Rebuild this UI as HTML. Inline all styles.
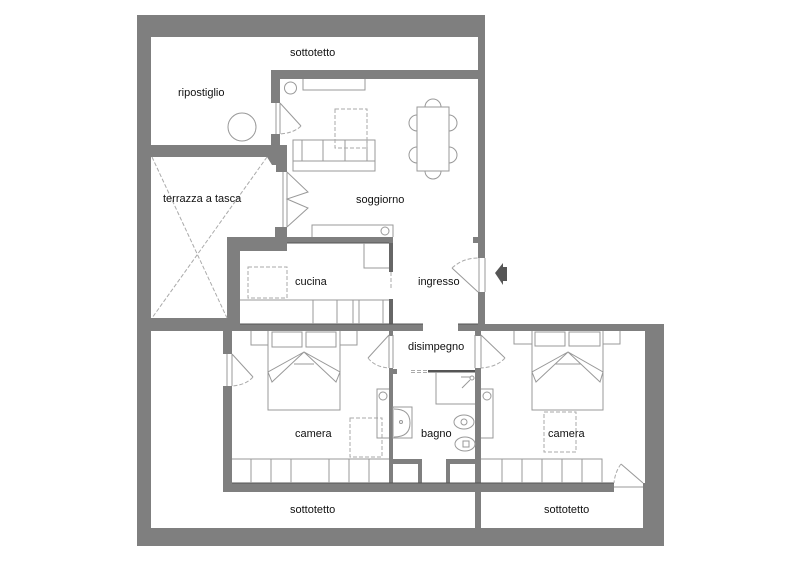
<!DOCTYPE html>
<html><head><meta charset="utf-8"><style>
html,body{margin:0;padding:0;background:#fff;width:800px;height:565px;overflow:hidden}
svg{display:block}
text{font-family:"Liberation Sans",sans-serif;font-size:11px;fill:#111}
.w{fill:#fff}
.g{fill:#7f7f7f}
.l{fill:none;stroke:#999;stroke-width:1}
.d{fill:none;stroke:#aaa;stroke-width:1;stroke-dasharray:4 2}
.k{fill:none;stroke:#555;stroke-width:1}
</style></head><body>
<svg width="800" height="565" viewBox="0 0 800 565" xmlns="http://www.w3.org/2000/svg">
<polygon class="g" points="137,15 485,15 485,324 664,324 664,546 137,546"/>
<polygon class="w" points="151,37 478,37 478,70 271,70 271,145 151,145"/>
<polygon class="w" points="151,157 267,157 272,165 276,165 276,172 283,172 283,227 275,227 275,237 227,237 227,318 151,318"/>
<rect class="w" x="280" y="79" width="198" height="66"/>
<rect class="w" x="287" y="145" width="191" height="92"/>
<rect class="w" x="393" y="237" width="85" height="87"/>
<rect class="w" x="287" y="243" width="106" height="81"/>
<rect class="w" x="240" y="251" width="47" height="73"/>
<rect class="w" x="423" y="324" width="35" height="8"/>
<rect class="w" x="271" y="103" width="9" height="31"/>
<rect class="w" x="283" y="172" width="4" height="55"/>
<rect class="w" x="478" y="258" width="7" height="34"/>
<rect class="w" x="393" y="331" width="82" height="128"/>
<rect class="w" x="393" y="464" width="25" height="19"/>
<rect class="w" x="422" y="459" width="24" height="24"/>
<rect class="w" x="450" y="464" width="25" height="19"/>
<rect class="w" x="232" y="331" width="157" height="152"/>
<rect class="w" x="481" y="331" width="164" height="152"/>
<polygon class="w" points="151,331 223,331 223,492 475,492 475,528 151,528"/>
<rect class="w" x="481" y="492" width="162" height="36"/>
<rect class="w" x="614" y="483" width="29" height="10"/>
<rect class="w" x="223" y="354" width="9" height="32"/>
<rect class="w" x="389" y="336" width="4" height="32"/>
<rect class="w" x="475" y="336" width="6" height="32"/>
<rect class="g" x="473" y="237" width="5" height="6"/>
<rect class="g" x="389" y="243" width="4" height="29" style="fill:#666"/>
<rect class="g" x="389" y="299" width="4" height="25" style="fill:#666"/>
<rect class="g" x="393" y="369" width="4" height="5"/>
<rect x="428" y="370" width="47" height="2.5" fill="#555"/>
<path class="k" d="M232 483H614M240 324H423M287 243H389M458 324H478M393 483H475M481 483H614"/>
<path class="d" d="M411 370.500H428M411 372.500H428"/>
<path class="d" d="M391 272V288"/>

<!-- door lines -->
<path class="l" d="M276 103V134M280 103V134M283 172V227M287 172V227M479 258V292M485 258V292M227 354V386M232 354V386M389 335V368M393 335V368M475 335V368M481 335V368M614 487H643"/>
<path class="l" d="M280 103L301 126"/>
<path class="d" d="M301 126Q294 133 280 134"/>
<path class="l" d="M287 172L308 192L287 199L308 208L287 227"/>
<path class="l" d="M478 292L452 268"/>
<path class="d" d="M452 268Q463 258 478 258"/>
<path class="l" d="M232 354L253 377"/>
<path class="d" d="M253 377Q246 385 232 386"/>
<path class="l" d="M389 335L368 358"/>
<path class="d" d="M368 358Q375 367 389 368"/>
<path class="l" d="M481 335L505 358"/>
<path class="d" d="M505 358Q497 367 481 368"/>
<path class="l" d="M643 483L621 464"/>
<path class="d" d="M621 464Q615 472 614 483"/>

<!-- arrow -->
<polygon points="495,274 503,264 503,286" fill="#555" transform="translate(0,-1)"/>
<rect x="503" y="267" width="4" height="14" fill="#555"/>

<!-- ripostiglio, living -->
<circle class="l" cx="242" cy="127" r="14"/>
<circle class="l" cx="290.500" cy="88" r="6"/>
<path class="l" d="M303 79V90H365V79"/>
<path class="l" d="M293 140H375V171H293ZM293 161H375M302 140V161M323 140V161M345 140V161M367 140V161"/>
<rect class="d" x="335" y="109" width="32" height="39"/>
<rect class="l" x="417" y="107" width="32" height="64"/>
<path class="l" d="M425 107A8 8 0 0 1 441 107M425 171A8 8 0 0 0 441 171M417 115A8 8 0 0 0 417 131M417 147A8 8 0 0 0 417 163M449 115A8 8 0 0 1 449 131M449 147A8 8 0 0 1 449 163"/>

<!-- terrace -->
<path class="d" d="M152 157L227 318M267 157L152 318"/>

<!-- kitchen -->
<path class="l" d="M312 237V225H393V237"/>
<circle class="l" cx="385" cy="231" r="4"/>
<path class="l" d="M364 243V268H389"/>
<rect class="d" x="248" y="267" width="39" height="31"/>
<path class="l" d="M240 300H389M313 300V324M337 300V324M353 300V324M359 300V324M383 300V324"/>

<!-- left bedroom -->
<path class="l" d="M268 331V410H340V331"/>
<rect class="l" x="272" y="332" width="30" height="15"/>
<rect class="l" x="306" y="332" width="30" height="15"/>
<path class="l" d="M251 331V345H268M340 345H357V331"/>
<path class="l" d="M304 352L268 372L272 382L304 352L340 372L336 382ZM294 364H314"/>
<rect class="d" x="350" y="418" width="32" height="39"/>
<path class="l" d="M232 459H389M251 459V483M271 459V483M291 459V483M329 459V483M349 459V483M369 459V483"/>
<path class="l" d="M389 389H377V438H389"/>
<circle class="l" cx="383" cy="396" r="4"/>

<!-- bath -->
<rect class="l" x="393" y="407" width="19" height="31"/>
<path class="l" d="M394 409Q410 409 410 423Q410 437 394 437"/>
<circle class="l" cx="401" cy="422" r="1.500"/>
<path class="l" d="M436 372V404H475"/>
<circle class="l" cx="472" cy="378" r="2"/>
<path class="l" d="M461 377H470M462 388L470 380"/>
<ellipse class="l" cx="464" cy="422" rx="10" ry="7"/>
<ellipse class="l" cx="465" cy="444" rx="10" ry="7"/>
<circle class="l" cx="464" cy="422" r="3"/>
<rect class="l" x="463" y="441" width="6" height="6"/>

<!-- right bedroom -->
<path class="l" d="M481 389H493V438H481"/>
<circle class="l" cx="487" cy="396" r="4"/>
<path class="l" d="M532 331V410H603V331"/>
<rect class="l" x="535" y="332" width="30" height="14"/>
<rect class="l" x="569" y="332" width="31" height="14"/>
<path class="l" d="M514 331V344H532M603 344H620V331"/>
<path class="l" d="M568 352L532 372L536 382L568 352L603 372L600 382ZM555 364H581"/>
<rect class="d" x="544" y="412" width="32" height="40"/>
<path class="l" d="M481 459H602V483M502 459V483M522 459V483M542 459V483M562 459V483M582 459V483"/>

<!-- labels -->
<text x="290" y="56">sottotetto</text>
<text x="178" y="96">ripostiglio</text>
<text x="163" y="202">terrazza a tasca</text>
<text x="356" y="203">soggiorno</text>
<text x="295" y="285">cucina</text>
<text x="418" y="285">ingresso</text>
<text x="408" y="350">disimpegno</text>
<text x="295" y="437">camera</text>
<text x="421" y="437">bagno</text>
<text x="548" y="437">camera</text>
<text x="290" y="513">sottotetto</text>
<text x="544" y="513">sottotetto</text>
</svg>
</body></html>
